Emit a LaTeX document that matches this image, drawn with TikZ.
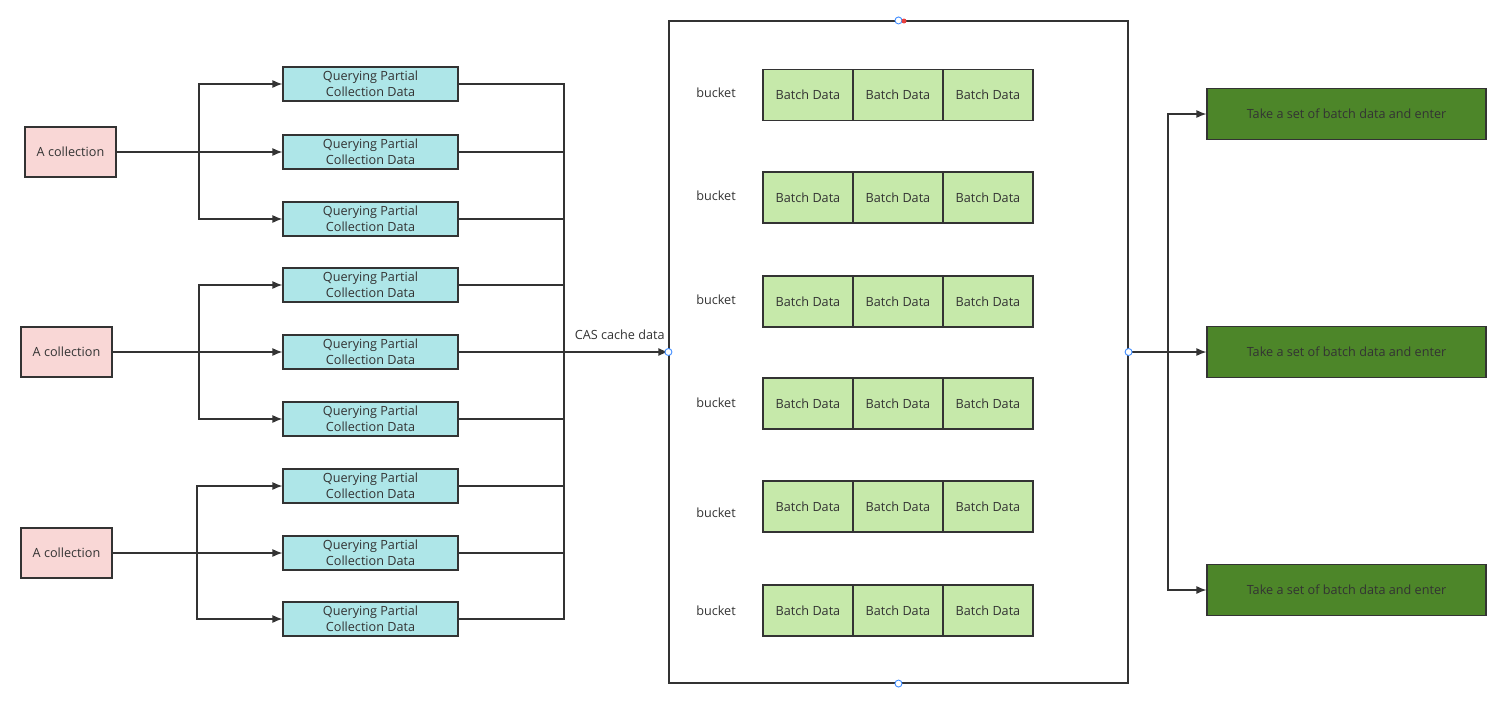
\documentclass[tikz,border=0pt]{standalone}
\usepackage{fontspec}
\setmainfont{Open Sans}
\usetikzlibrary{arrows.meta}
\definecolor{txtgray}{HTML}{333333}
\definecolor{pinkfill}{HTML}{F9D7D6}
\definecolor{cyanfill}{HTML}{AEE6E8}
\definecolor{lightgreen}{HTML}{C6E9AA}
\definecolor{darkgreen}{HTML}{4D8629}
\definecolor{handleblue}{HTML}{3D8BFF}
\definecolor{handlered}{HTML}{E8403F}
\begin{document}
\begin{tikzpicture}[x=0.02cm, y=-0.02cm, line width=0.7pt, draw=txtgray,
    every node/.style={font=\fontsize{7.2}{9}\selectfont, text=txtgray},
    collbox/.style={draw=txtgray, fill=pinkfill, minimum width=1.82cm, minimum height=1cm, inner sep=0pt},
    querybox/.style={draw=txtgray, fill=cyanfill, minimum width=3.5cm, minimum height=0.68cm, inner sep=0pt, align=center},
    batchbox/.style={draw=txtgray, fill=lightgreen, minimum width=1.8cm, minimum height=1.02cm, inner sep=0pt},
    takebox/.style={draw=txtgray, fill=darkgreen, minimum width=5.58cm, minimum height=1.02cm, inner sep=0pt},
    poolbox/.style={draw=txtgray, minimum width=9.18cm, minimum height=13.24cm, inner sep=0pt},
    handle/.style={circle, draw=handleblue, fill=white, line width=0.5pt, minimum size=0.14cm, inner sep=0pt},
    link/.style={draw=txtgray},
    arr/.style={draw=txtgray, -{Latex[length=0.2cm, width=0.16cm]}}]
    \useasboundingbox (0,0) rectangle (1504,703);
    % collections
    \node [collbox] (c1) at (70.5,152) {A collection};
    \node [collbox] (c2) at (66.5,352) {A collection};
    \node [collbox] (c3) at (66.5,553) {A collection};
    % partial queries
    \node [querybox] (q1) at (370.5,84) {Querying Partial\\Collection Data};
    \node [querybox] (q2) at (370.5,152) {Querying Partial\\Collection Data};
    \node [querybox] (q3) at (370.5,219) {Querying Partial\\Collection Data};
    \node [querybox] (q4) at (370.5,285) {Querying Partial\\Collection Data};
    \node [querybox] (q5) at (370.5,352) {Querying Partial\\Collection Data};
    \node [querybox] (q6) at (370.5,419) {Querying Partial\\Collection Data};
    \node [querybox] (q7) at (370.5,486) {Querying Partial\\Collection Data};
    \node [querybox] (q8) at (370.5,553) {Querying Partial\\Collection Data};
    \node [querybox] (q9) at (370.5,619) {Querying Partial\\Collection Data};
    % cache pool
    \node [poolbox] (pool) at (898.5,352) {};
    \node (k1) at (716,93) {bucket};
    \node (k2) at (716,196) {bucket};
    \node (k3) at (716,300) {bucket};
    \node (k4) at (716,403) {bucket};
    \node (k5) at (716,513) {bucket};
    \node (k6) at (716,611) {bucket};
    \node [batchbox] (b11) at (808,95) {Batch Data};
    \node [batchbox] (b12) at (898,95) {Batch Data};
    \node [batchbox] (b13) at (988,95) {Batch Data};
    \node [batchbox] (b21) at (808,197.5) {Batch Data};
    \node [batchbox] (b22) at (898,197.5) {Batch Data};
    \node [batchbox] (b23) at (988,197.5) {Batch Data};
    \node [batchbox] (b31) at (808,301.5) {Batch Data};
    \node [batchbox] (b32) at (898,301.5) {Batch Data};
    \node [batchbox] (b33) at (988,301.5) {Batch Data};
    \node [batchbox] (b41) at (808,403.5) {Batch Data};
    \node [batchbox] (b42) at (898,403.5) {Batch Data};
    \node [batchbox] (b43) at (988,403.5) {Batch Data};
    \node [batchbox] (b51) at (808,506.5) {Batch Data};
    \node [batchbox] (b52) at (898,506.5) {Batch Data};
    \node [batchbox] (b53) at (988,506.5) {Batch Data};
    \node [batchbox] (b61) at (808,610.5) {Batch Data};
    \node [batchbox] (b62) at (898,610.5) {Batch Data};
    \node [batchbox] (b63) at (988,610.5) {Batch Data};
    % consumers
    \node [takebox] (t1) at (1346.5,114) {Take a set of batch data and enter};
    \node [takebox] (t2) at (1346.5,352) {Take a set of batch data and enter};
    \node [takebox] (t3) at (1346.5,590) {Take a set of batch data and enter};
    % fan out
    \coordinate (s1) at (199,152);
    \coordinate (s2) at (199,352);
    \coordinate (s3) at (197,553);
    \draw [link, line width=1pt] (c1.east) -- (s1);
    \draw [arr] (s1) |- (q1);
    \draw [arr] (s1) -- (q2);
    \draw [arr] (s1) |- (q3);
    \draw [link, line width=1pt] (c2.east) -- (s2);
    \draw [arr] (s2) |- (q4);
    \draw [arr] (s2) -- (q5);
    \draw [arr] (s2) |- (q6);
    \draw [link, line width=1pt] (c3.east) -- (s3);
    \draw [arr] (s3) |- (q7);
    \draw [arr] (s3) -- (q8);
    \draw [arr] (s3) |- (q9);
    % merge
    \coordinate (m) at (564,352);
    \draw [link] (q1.east) -| (m);
    \draw [link] (q2.east) -| (m);
    \draw [link] (q3.east) -| (m);
    \draw [link] (q4.east) -| (m);
    \draw [link] (q5.east) -- (m);
    \draw [link] (q6.east) -| (m);
    \draw [link] (q7.east) -| (m);
    \draw [link] (q8.east) -| (m);
    \draw [link] (q9.east) -| (m);
    \draw [arr, line width=1pt] (m) -- node [above=3pt, xshift=2pt] {CAS cache data} (pool.west);
    % dispatch
    \coordinate (d) at (1168,352);
    \draw [link, line width=1pt] (pool.east) -- (d);
    \draw [arr] (d) |- (t1);
    \draw [arr] (d) -- (t2);
    \draw [arr] (d) |- (t3);
    % handles
    \node [handle] (h1) at (pool.west) {};
    \node [handle] (h2) at (pool.east) {};
    \node [handle] (h3) at (pool.north) {};
    \node [handle] (h4) at (pool.south) {};
    \node [circle, fill=handlered, minimum size=0.1cm, inner sep=0pt] (h5) at (904,21) {};
\end{tikzpicture}
\end{document}
